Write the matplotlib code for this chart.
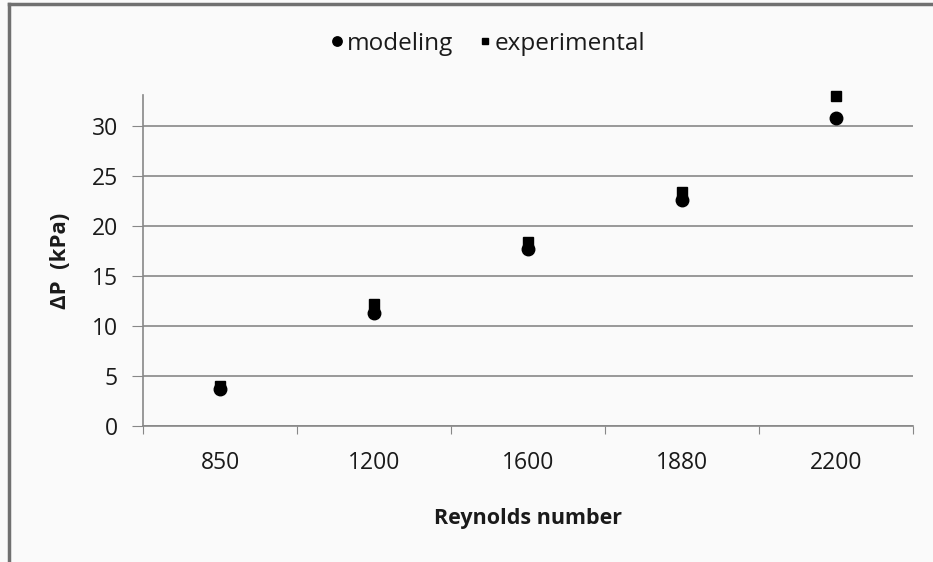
import numpy as np
import matplotlib
matplotlib.use("Agg")
import matplotlib.pyplot as plt

plt.rcParams['font.family'] = ['Open Sans', 'DejaVu Sans']

categories = ["850", "1200", "1600", "1880", "2200"]
modeling = [3.7, 11.3, 17.7, 22.6, 30.8]
experimental = [4.0, 12.2, 18.4, 23.4, 33.0]

bg = "#fafafa"
grey = "#878787"
txt = "#1a1a1a"

fig = plt.figure(figsize=(9.33, 5.62), dpi=100, facecolor=bg)
ax = fig.add_axes([143/933, 1 - 426/562, 770/933, 331/562], facecolor=bg)

x = np.arange(len(categories))
ax.plot(x, experimental, "s", color="black", markersize=6.5, label="experimental",
        zorder=3, clip_on=False)
ax.plot(x, modeling, "o", color="black", markersize=9, label="modeling",
        zorder=4, clip_on=False)

ax.set_xlim(-0.5, len(categories) - 0.5)
ax.set_ylim(0, 33.1)
ax.set_yticks(np.arange(0, 31, 5))
ax.yaxis.grid(True, color=grey, linewidth=1.2)
ax.set_axisbelow(True)

# category boundaries as major ticks, labels on minor ticks at centres
ax.set_xticks(np.arange(-0.5, len(categories), 1.0))
ax.set_xticklabels([])
ax.set_xticks(x, minor=True)
ax.set_xticklabels(categories, minor=True)
ax.tick_params(axis="x", which="major", length=6, color=grey, direction="out")
ax.tick_params(axis="x", which="minor", length=0, pad=18, labelsize=16.5, labelcolor=txt)
ax.tick_params(axis="y", length=8, color=grey, direction="out", pad=10, labelsize=16.5, labelcolor=txt)

for s in ["top", "right"]:
    ax.spines[s].set_visible(False)
for s in ["left", "bottom"]:
    ax.spines[s].set_color(grey)
    ax.spines[s].set_linewidth(1.2)

ax.set_xlabel("Reynolds number", fontsize=15.5, fontweight="bold", labelpad=24, color=txt)
ax.set_ylabel("ΔP  (kPa)", fontsize=16, fontweight="bold", labelpad=15, color=txt)

handles, labels = ax.get_legend_handles_labels()
fig.legend(handles[::-1], labels[::-1], loc="center", bbox_to_anchor=(487/933, 1 - 44/562),
           ncol=2, frameon=False, fontsize=17.5, handletextpad=0.05, columnspacing=0.95,
           handlelength=0.7, markerscale=0.75, labelcolor=txt)

# outer frame on top and left edges
fig.add_artist(plt.Line2D([9/933, 9/933], [0, 1 - 4/562], transform=fig.transFigure, color="#707070", lw=2.5))
fig.add_artist(plt.Line2D([9/933, 1], [1 - 4/562, 1 - 4/562], transform=fig.transFigure, color="#707070", lw=2.5))

fig.savefig("out.png", dpi=100, facecolor=bg)
